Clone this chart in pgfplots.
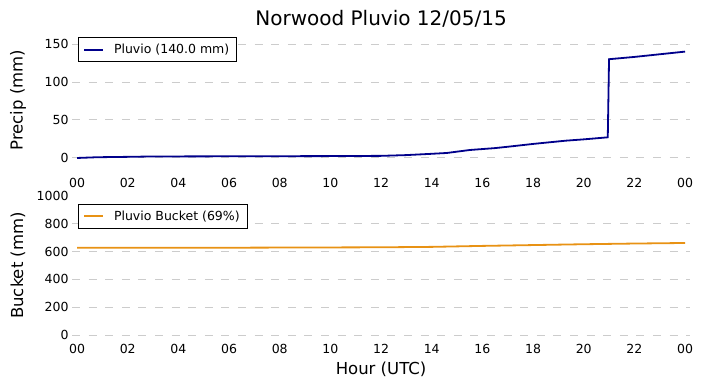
\documentclass[border=0pt]{standalone}
\usepackage{fontspec}
\setmainfont{DejaVu Sans}
\usepackage{pgfplots}
\pgfplotsset{compat=1.18}
\definecolor{pluvio}{RGB}{0,0,139}
\definecolor{bucket}{RGB}{232,146,20}
\definecolor{gridc}{RGB}{204,204,204}
\pgfplotsset{
  myaxis/.style={
    scale only axis, width=618.1pt,
    xmin=-0.2, xmax=24.2,
    xtick={0,2,...,24},
    xticklabels={00,02,04,06,08,10,12,14,16,18,20,22,00},
    axis line style={draw=none},
    major tick length=0pt,
    ymajorgrids,
    grid style={gridc, line width=1pt, dash pattern=on 8pt off 8.6pt},
    /pgf/number format/assume math mode=true,
    /pgf/number format/1000 sep={},
    tick label style={font=\fontsize{12.5}{15}\selectfont},
    xticklabel style={yshift=-6pt},
    label style={font=\fontsize{16.5}{20}\selectfont},
    legend style={font=\fontsize{12.5}{15}\selectfont, draw=black, line width=1pt,
      at={(0,1)}, anchor=north west, xshift=6pt, inner xsep=4.5pt, inner ysep=4pt,
      column sep=0pt, nodes={inner xsep=3pt, inner ysep=2.5pt}},
    legend cell align=left,
    legend image code/.code={\draw[#1, line width=2pt] (0pt,0pt) -- (19pt,0pt);},
    ylabel style={at={(rel axis cs:-0.0874,0.5)}, anchor=center},
    every axis plot/.append style={line width=1.8pt, mark=none},
  }
}
\begin{document}
\begin{tikzpicture}
\useasboundingbox (0,0) rectangle (703pt,388pt);
\begin{axis}[myaxis,
  at={(72pt,219pt)}, anchor=south west, height=137.9pt,
  ymin=-14.5, ymax=167,
  ytick={0,50,100,150},
  ylabel={Precip (mm)},
  title={Norwood Pluvio 12/05/15},
  title style={font=\fontsize{20}{24}\selectfont, at={(rel axis cs:0.5,1.0435)}, anchor=center},
  legend style={yshift=-6pt},
]
\addplot[pluvio] coordinates {
(0,0) (0.8,1) (2,1.5) (3,2) (6,2.2) (10,2.5) (12,2.8) (13,3.8) (14,5.5) (14.6,6.6)
(15.5,10.5) (16.5,13) (17.2,15.5) (18,18.5) (19.3,22.8) (20,24.5) (20.95,27.2)
(21.0,130) (22,133) (23,136.5) (24,140)
};
\addlegendentry{\hspace{7pt}Pluvio (140.0 mm)}
\end{axis}
\begin{axis}[myaxis,
  at={(72pt,53pt)}, anchor=south west, height=139pt,
  ymin=0, ymax=1000,
  ytick={0,200,...,800},
  extra y ticks={1000},
  extra y tick style={grid=none},
  ylabel={Bucket (mm)},
  xlabel={Hour (UTC)},
  xlabel style={at={(rel axis cs:0.5,-0.2446)}, anchor=center},
  legend style={yshift=-8pt},
]
\addplot[bucket] coordinates {
(0,627) (6,628) (12,631) (14,634) (16,641) (18,647) (20,653) (22,658) (24,662)
};
\addlegendentry{\hspace{7pt}Pluvio Bucket (69\%)}
\end{axis}
\end{tikzpicture}
\end{document}
